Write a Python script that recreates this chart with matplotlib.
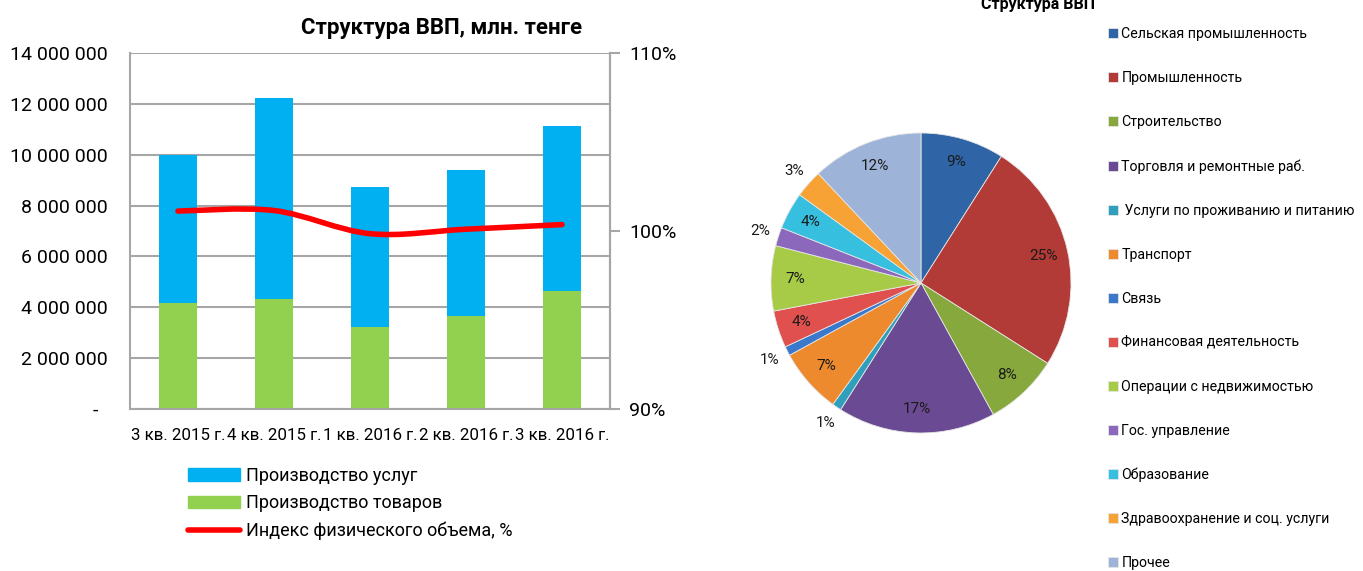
import math

import matplotlib

matplotlib.use("Agg")
import matplotlib.pyplot as plt
from matplotlib.patches import Patch, PathPatch
from matplotlib.lines import Line2D
from matplotlib.path import Path
from matplotlib.ticker import FuncFormatter

plt.rcParams["font.family"] = ["Roboto", "DejaVu Sans"]

# left chart data (млн. тенге)
quarters = ["3 кв. 2015 г.", "4 кв. 2015 г.", "1 кв. 2016 г.", "2 кв. 2016 г.", "3 кв. 2016 г."]
goods = [4170000, 4330000, 3220000, 3660000, 4640000]
services = [5830000, 7900000, 5510000, 5740000, 6500000]
volume_index = [101.12, 101.15, 99.85, 100.10, 100.36]

# pie data
sectors = [
    "Сельская промышленность",
    "Промышленность",
    "Строительство",
    "Торговля и ремонтные раб.",
    " Услуги по проживанию и питанию",
    "Транспорт",
    "Связь",
    "Финансовая деятельность",
    "Операции с недвижимостью",
    "Гос. управление",
    "Образование",
    "Здравоохранение и соц. услуги",
    "Прочее",
]
shares = [9, 25, 8, 17, 1, 7, 1, 4, 7, 2, 4, 3, 12]
sector_colors = [
    "#2f64a6", "#b23a37", "#86a83c", "#6a4b93", "#2f9fbc", "#ee8a2e",
    "#3a78cc", "#e0504e", "#a7cb47", "#8c68bd", "#37bfe0", "#f7a234", "#9db3d8",
]

GRID = "#a6a6a6"

fig = plt.figure(figsize=(13.63, 5.71), dpi=100)

# ---- stacked bars + volume index ----
ax1 = fig.add_axes([130 / 1363, 1 - 409 / 571, 480 / 1363, 356 / 571])
x = list(range(len(quarters)))
ax1.bar(x, goods, width=0.4, color="#92d050", zorder=2)
ax1.bar(x, services, width=0.4, bottom=goods, color="#00b0f0", zorder=2)
ax1.set_xlim(-0.5, len(quarters) - 0.5)
ax1.set_ylim(0, 14000000)
ax1.set_yticks(range(0, 14000001, 2000000))
ax1.yaxis.set_major_formatter(
    FuncFormatter(lambda v, p: "-  " if v == 0 else f"{int(v):,}".replace(",", " "))
)
ax1.set_axisbelow(True)
ax1.grid(axis="y", color=GRID, linewidth=1.5)
ax1.tick_params(axis="y", length=0, pad=16, labelsize=14)
ax1.set_xticks(x)
ax1.set_xticklabels(quarters, fontsize=12.2)
ax1.tick_params(axis="x", length=0, pad=14)
for side in ["left", "bottom", "right"]:
    ax1.spines[side].set_color(GRID)
    ax1.spines[side].set_linewidth(1.5)
ax1.spines["top"].set_visible(False)
ax1.set_title("Структура ВВП, млн. тенге", fontsize=16, fontweight="bold", pad=14, x=0.65)

ax2 = ax1.twinx()
ax2.set_ylim(90, 110)
ax2.set_yticks([90, 100, 110])
ax2.set_yticklabels(["90%", "100%", "110%"], fontsize=14)
ax2.tick_params(axis="y", length=7, width=1.5, color=GRID, pad=7)
for side in ["left", "bottom", "top"]:
    ax2.spines[side].set_visible(False)
ax2.spines["right"].set_color(GRID)
ax2.spines["right"].set_linewidth(1.5)

# smoothed line (bezier through the points, like the spreadsheet "smooth line")
pts = list(zip(x, volume_index))
verts = [pts[0]]
codes = [Path.MOVETO]
for i in range(len(pts) - 1):
    p0 = pts[max(i - 1, 0)]
    p1 = pts[i]
    p2 = pts[i + 1]
    p3 = pts[min(i + 2, len(pts) - 1)]
    c1 = (p1[0] + (p2[0] - p0[0]) / 6, p1[1] + (p2[1] - p0[1]) / 6)
    c2 = (p2[0] - (p3[0] - p1[0]) / 6, p2[1] - (p3[1] - p1[1]) / 6)
    verts += [c1, c2, p2]
    codes += [Path.CURVE4] * 3
ax2.add_patch(PathPatch(Path(verts, codes), facecolor="none", edgecolor="#ff0000",
                        linewidth=4, capstyle="round", zorder=3))

handles = [
    Patch(color="#00b0f0"),
    Patch(color="#92d050"),
    Line2D([0], [0], color="#ff0000", linewidth=4, solid_capstyle="round"),
]
fig.legend(handles, ["Производство услуг", "Производство товаров", "Индекс физического объема, %"],
           loc="upper left", bbox_to_anchor=(188 / 1363, 1 - 467 / 571), frameon=False,
           fontsize=13, handlelength=2.9, handleheight=0.68, handletextpad=0.3,
           labelspacing=0.52, borderpad=0, borderaxespad=0)

# ---- pie ----
axp = fig.add_axes([(921 - 150) / 1363, 1 - (283 + 150) / 571, 300 / 1363, 300 / 571])
wedges, _ = axp.pie(shares, colors=sector_colors, startangle=90, counterclock=False,
                    wedgeprops=dict(edgecolor="#e6e6e6", linewidth=0.6))
for w, s in zip(wedges, shares):
    ang = math.radians((w.theta1 + w.theta2) / 2)
    # small slices get their label outside
    r = 1.13 if s <= 3 else 0.84
    axp.text(r * math.cos(ang), r * math.sin(ang), f"{s}%", ha="center", va="center",
             fontsize=11, color="#1a1a1a")
axp.set_xlim(-1, 1)
axp.set_ylim(-1, 1)

fig.text(1038 / 1363, 1 - 5 / 571, "Структура ВВП", ha="center", va="center",
         fontsize=11.5, fontweight="bold")
fig.legend(wedges, sectors, loc="upper left", bbox_to_anchor=(1108 / 1363, 1 - 27 / 571),
           frameon=False, fontsize=10.2, handlelength=0.7, handleheight=0.7,
           handletextpad=0.25, labelspacing=2.12, borderpad=0, borderaxespad=0)

fig.savefig("out.png", dpi=100)
